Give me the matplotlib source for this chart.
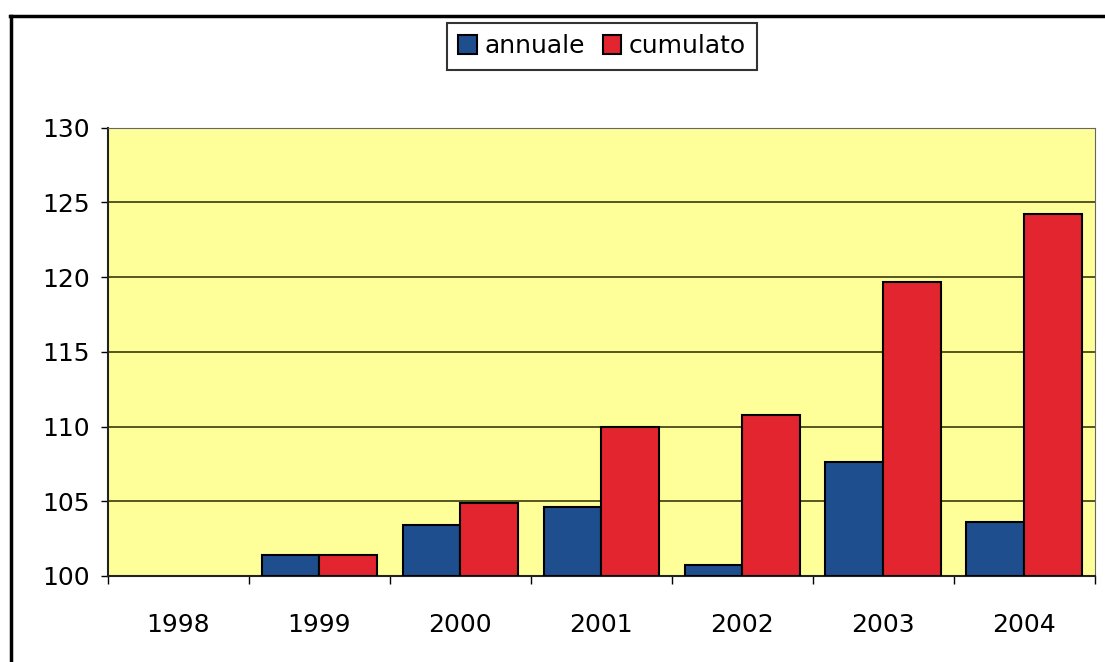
import numpy as np
import matplotlib.pyplot as plt

anni      = ['1998', '1999', '2000', '2001', '2002', '2003', '2004']
annuale   = [100.0, 101.4, 103.4, 104.6, 100.7, 107.6, 103.6]
cumulato  = [100.0, 101.4, 104.9, 110.0, 110.8, 119.7, 124.2]

fig = plt.figure(figsize=(11.05, 6.62), dpi=100)
# frame of the scan: only top and left lines visible
fig.add_artist(plt.Line2D([0.009, 1.0], [0.976, 0.976], transform=fig.transFigure,
                          color='black', linewidth=2.5))
fig.add_artist(plt.Line2D([0.010, 0.010], [0.0, 0.976], transform=fig.transFigure,
                          color='black', linewidth=2.5))

ax = fig.add_axes([0.0977, 0.130, 0.893, 0.677])
ax.set_facecolor('#FFFF99')

x = np.arange(len(anni))
w = 0.41
base = 100
a = np.array(annuale) - base
c = np.array(cumulato) - base
ka = a > 0
kc = c > 0
ax.bar(x[ka] - w/2, a[ka], w, bottom=base, color='#1F4E8F',
       edgecolor='black', linewidth=1.5, label='annuale', zorder=3)
ax.bar(x[kc] + w/2, c[kc], w, bottom=base, color='#E2252F',
       edgecolor='black', linewidth=1.5, label='cumulato', zorder=3)

ax.set_xlim(-0.5, len(anni) - 0.5)
ax.set_ylim(100, 130)
ax.set_yticks(range(100, 131, 5))
ax.yaxis.grid(True, color='#3a3a10', linewidth=1.2, zorder=1)
ax.set_xticks(x)
ax.set_xticklabels(anni)
ax.set_xticks(np.arange(-0.5, len(anni)), minor=True)
ax.tick_params(axis='x', which='major', length=0, labelsize=18, pad=27)
ax.tick_params(axis='x', which='minor', length=6, width=1)
ax.tick_params(axis='y', length=5, width=1, labelsize=18, pad=8)
for s in ['top', 'right']:
    ax.spines[s].set_color('#666666')
ax.spines['left'].set_color('#222222')
ax.spines['left'].set_linewidth(1.5)
ax.spines['bottom'].set_color('#222222')
ax.spines['bottom'].set_linewidth(1.5)

leg = fig.legend(loc='upper center', bbox_to_anchor=(0.545, 0.984), ncol=2,
                 fontsize=18, frameon=True, fancybox=False, edgecolor='black',
                 handlelength=0.75, handleheight=0.75, handletextpad=0.3,
                 columnspacing=0.7, borderpad=0.45)
leg.get_frame().set_linewidth(1.5)

plt.savefig('out.png')
